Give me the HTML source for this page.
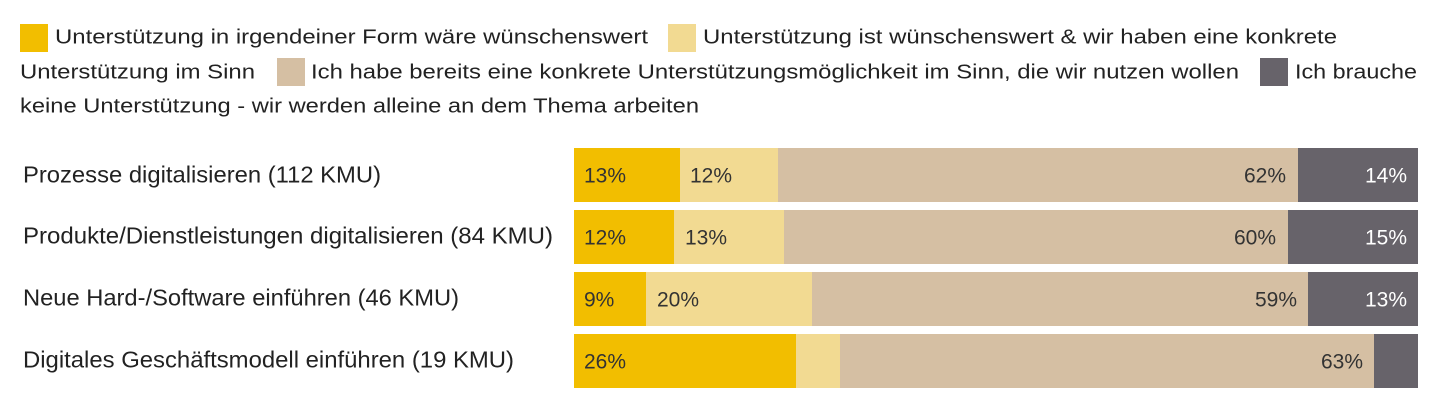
<!DOCTYPE html>
<html>
<head>
<meta charset="utf-8">
<style>
html,body{margin:0;padding:0;background:#ffffff;}
body{width:1440px;height:406px;overflow:hidden;}
svg{display:block;}
text{font-family:"Liberation Sans",Arial,sans-serif;}
.lg{font-size:20px;fill:#222222;}
.cat{font-size:23.5px;fill:#222222;}
.pc{font-size:21px;fill:#333333;}
.pw{font-size:21px;fill:#ffffff;}
</style>
</head>
<body>
<svg width="1440" height="406" viewBox="0 0 1440 406" xmlns="http://www.w3.org/2000/svg">
  <rect x="0" y="0" width="1440" height="406" fill="#ffffff"/>

  <!-- Legend -->
  <rect x="20" y="24" width="28" height="28" fill="#F2BE00"/>
  <text class="lg" x="55" y="43.5" textLength="593" lengthAdjust="spacingAndGlyphs">Unterstützung in irgendeiner Form wäre wünschenswert</text>
  <rect x="668" y="24" width="28" height="28" fill="#F2DA92"/>
  <text class="lg" x="703" y="43.5" textLength="634" lengthAdjust="spacingAndGlyphs">Unterstützung ist wünschenswert &amp; wir haben eine konkrete</text>

  <text class="lg" x="20" y="78.5" textLength="235" lengthAdjust="spacingAndGlyphs">Unterstützung im Sinn</text>
  <rect x="277" y="58" width="28" height="28" fill="#D5BFA3"/>
  <text class="lg" x="311" y="78.5" textLength="928" lengthAdjust="spacingAndGlyphs">Ich habe bereits eine konkrete Unterstützungsmöglichkeit im Sinn, die wir nutzen wollen</text>
  <rect x="1260" y="58" width="28" height="28" fill="#67636A"/>
  <text class="lg" x="1295" y="78.5" textLength="122" lengthAdjust="spacingAndGlyphs">Ich brauche</text>

  <text class="lg" x="20" y="112.5" textLength="679" lengthAdjust="spacingAndGlyphs">keine Unterstützung - wir werden alleine an dem Thema arbeiten</text>

  <!-- Category labels -->
  <text class="cat" x="23" y="182.5" textLength="358" lengthAdjust="spacingAndGlyphs">Prozesse digitalisieren (112 KMU)</text>
  <text class="cat" x="23" y="243.5" textLength="530" lengthAdjust="spacingAndGlyphs">Produkte/Dienstleistungen digitalisieren (84 KMU)</text>
  <text class="cat" x="23" y="305.5" textLength="436" lengthAdjust="spacingAndGlyphs">Neue Hard-/Software einführen (46 KMU)</text>
  <text class="cat" x="23" y="367.5" textLength="491" lengthAdjust="spacingAndGlyphs">Digitales Geschäftsmodell einführen (19 KMU)</text>

  <!-- Row 1 -->
  <rect x="574" y="148" width="106" height="54" fill="#F2BE00"/>
  <rect x="680" y="148" width="98" height="54" fill="#F2DA92"/>
  <rect x="778" y="148" width="520" height="54" fill="#D5BFA3"/>
  <rect x="1298" y="148" width="120" height="54" fill="#67636A"/>
  <text class="pc" x="584" y="182.5">13%</text>
  <text class="pc" x="690" y="182.5">12%</text>
  <text class="pc" x="1286" y="182.5" text-anchor="end">62%</text>
  <text class="pw" x="1407" y="182.5" text-anchor="end">14%</text>

  <!-- Row 2 -->
  <rect x="574" y="210" width="100" height="54" fill="#F2BE00"/>
  <rect x="674" y="210" width="110" height="54" fill="#F2DA92"/>
  <rect x="784" y="210" width="504" height="54" fill="#D5BFA3"/>
  <rect x="1288" y="210" width="130" height="54" fill="#67636A"/>
  <text class="pc" x="584" y="244.5">12%</text>
  <text class="pc" x="685" y="244.5">13%</text>
  <text class="pc" x="1276" y="244.5" text-anchor="end">60%</text>
  <text class="pw" x="1407" y="244.5" text-anchor="end">15%</text>

  <!-- Row 3 -->
  <rect x="574" y="272" width="72" height="54" fill="#F2BE00"/>
  <rect x="646" y="272" width="166" height="54" fill="#F2DA92"/>
  <rect x="812" y="272" width="496" height="54" fill="#D5BFA3"/>
  <rect x="1308" y="272" width="110" height="54" fill="#67636A"/>
  <text class="pc" x="584" y="306.5">9%</text>
  <text class="pc" x="657" y="306.5">20%</text>
  <text class="pc" x="1297" y="306.5" text-anchor="end">59%</text>
  <text class="pw" x="1407" y="306.5" text-anchor="end">13%</text>

  <!-- Row 4 -->
  <rect x="574" y="334" width="222" height="54" fill="#F2BE00"/>
  <rect x="796" y="334" width="44" height="54" fill="#F2DA92"/>
  <rect x="840" y="334" width="534" height="54" fill="#D5BFA3"/>
  <rect x="1374" y="334" width="44" height="54" fill="#67636A"/>
  <text class="pc" x="584" y="368.5">26%</text>
  <text class="pc" x="1363" y="368.5" text-anchor="end">63%</text>
</svg>
</body>
</html>
